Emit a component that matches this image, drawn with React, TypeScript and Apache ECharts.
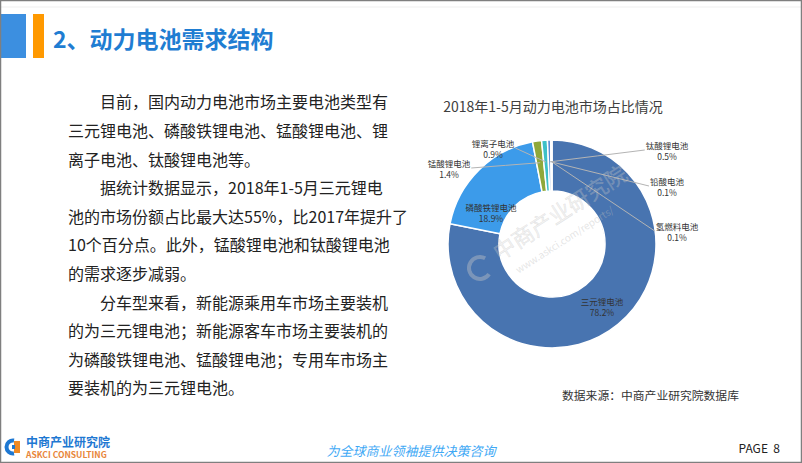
import React, { useEffect, useRef } from "react";
import * as echarts from "echarts";

const chartTitle = "2018年1-5月动力电池市场占比情况";
const categories = ["三元锂电池", "磷酸铁锂电池", "锰酸锂电池", "锂离子电池", "钛酸锂电池", "铅酸电池", "氢燃料电池"];
const shares = [78.2, 18.9, 1.4, 0.9, 0.5, 0.1, 0.1];
const sliceColors = ["#4874B0", "#3C9BEA", "#8FA83A", "#3EC0C8", "#5A8FD6", "#9DC3E6", "#2F5597"];
const insideFlags = [true, true, false, false, false, false, false];
const labelCenters: number[][] = [
  [602, 306],
  [491, 212],
  [449, 168],
  [493, 148],
  [667, 150],
  [667, 186],
  [677, 231],
];

const slideTitle = "2、动力电池需求结构";
const paragraphLines = [
  "　　目前，国内动力电池市场主要电池类型有",
  "三元锂电池、磷酸铁锂电池、锰酸锂电池、锂",
  "离子电池、钛酸锂电池等。",
  "　　据统计数据显示，2018年1-5月三元锂电",
  "池的市场份额占比最大达55%，比2017年提升了",
  "10个百分点。此外，锰酸锂电池和钛酸锂电池",
  "的需求逐步减弱。",
  "　　分车型来看，新能源乘用车市场主要装机",
  "的为三元锂电池；新能源客车市场主要装机的",
  "为磷酸铁锂电池、锰酸锂电池；专用车市场主",
  "要装机的为三元锂电池。",
];
const sourceText = "数据来源：中商产业研究院数据库";
const footerSlogan = "为全球商业领袖提供决策咨询";
const pageText = "PAGE  8";
const logoCn = "中商产业研究院";
const logoEn = "ASKCI CONSULTING";
const watermarkCn = "中商产业研究院";
const watermarkUrl = "www.askci.com/reports/";

const CJK = '"Noto Sans CJK SC", "Noto Sans", sans-serif';
const PIE_CENTER = [552, 244];
const PIE_RADIUS = [53, 104];

export default function App() {
  const ref = useRef<HTMLDivElement>(null);

  useEffect(() => {
    if (!ref.current) return;
    const chart = echarts.init(ref.current, undefined, { renderer: "svg" });

    const total = shares.reduce((a, b) => a + b, 0);
    const midAngles: number[] = [];
    let cum = 0;
    shares.forEach((v) => {
      midAngles.push(((90 - ((cum + v / 2) / total) * 360) * Math.PI) / 180);
      cum += v;
    });

    const sliceData = categories.map((name, i) => ({
      name,
      value: shares[i],
      itemStyle: { color: sliceColors[i] },
    }));

    const labelData = categories.map((name, i) => ({
      name,
      value: shares[i],
      label: insideFlags[i] ? { position: "inside" } : { position: "outside" },
      labelLine: { show: !insideFlags[i] },
    }));

    const common = {
      type: "pie",
      center: PIE_CENTER,
      radius: PIE_RADIUS,
      startAngle: 90,
      clockwise: true,
      avoidLabelOverlap: false,
    };

    const option: any = {
      animation: false,
      backgroundColor: "#ffffff",
      title: {
        text: chartTitle,
        left: 548,
        top: 94,
        textAlign: "center",
        textStyle: { fontFamily: CJK, fontSize: 14, fontWeight: "normal", color: "#404040" },
      },
      series: [
        {
          ...common,
          z: 2,
          itemStyle: { borderColor: "#ffffff", borderWidth: 1.5 },
          label: { show: false },
          labelLine: { show: false },
          data: sliceData,
        },
        {
          ...common,
          z: 4,
          silent: true,
          itemStyle: { color: "rgba(0,0,0,0)", borderWidth: 0 },
          label: {
            fontFamily: CJK,
            fontSize: 8.5,
            lineHeight: 11,
            color: "#333333",
            align: "center",
            formatter: (p: any) => `${p.name}\n${Number(p.value).toFixed(1)}%`,
          },
          labelLine: {
            length: 8,
            length2: 8,
            lineStyle: { color: "#B4B4B4", width: 1 },
          },
          labelLayout: (params: any) => {
            const i = params.dataIndex;
            const c = labelCenters[i];
            const res: any = { x: c[0], y: c[1], align: "center", verticalAlign: "middle", hideOverlap: false };
            if (!insideFlags[i]) {
              const r = PIE_RADIUS[1] * 0.79;
              const inner = [PIE_CENTER[0] + r * Math.cos(midAngles[i]), PIE_CENTER[1] - r * Math.sin(midAngles[i])];
              const halfW = (params.labelRect ? params.labelRect.width : 40) / 2;
              const rightSide = c[0] > PIE_CENTER[0];
              const end = [rightSide ? c[0] - halfW - 1 : c[0] + halfW + 1, c[1]];
              const mid = [(inner[0] + end[0]) / 2, (inner[1] + end[1]) / 2];
              res.labelLinePoints = [inner, mid, end];
            }
            return res;
          },
          data: labelData,
        },
      ],
      graphic: [
        {
          type: "rect",
          shape: { x: 0.5, y: 0.5, width: 801, height: 462 },
          style: { fill: "none", stroke: "#7F7F7F", lineWidth: 1.5 },
          z: 100,
        },
        { type: "line", shape: { x1: 1, y1: 7, x2: 801, y2: 7 }, style: { stroke: "#EFEFEF", lineWidth: 1 } },
        { type: "rect", shape: { x: 0, y: 14, width: 26, height: 44 }, style: { fill: "#3C8FE0" } },
        { type: "rect", shape: { x: 33, y: 14, width: 11, height: 44 }, style: { fill: "#FF9900" } },
        {
          type: "text",
          x: 53,
          y: 38,
          style: {
            text: slideTitle,
            fontFamily: CJK,
            fontSize: 23,
            fontWeight: "bold",
            fill: "#1F7DD2",
            verticalAlign: "middle",
          },
        },
        {
          type: "text",
          x: 68,
          y: 87,
          style: {
            text: paragraphLines.join("\n"),
            fontFamily: CJK,
            fontSize: 16,
            lineHeight: 28.6,
            fill: "#222222",
          },
        },
        {
          type: "text",
          x: 562,
          y: 394,
          style: {
            text: sourceText,
            fontFamily: CJK,
            fontSize: 11.8,
            fill: "#333333",
            verticalAlign: "middle",
          },
        },
        {
          type: "text",
          x: 500,
          y: 262,
          rotation: 0.57,
          style: {
            text: watermarkCn,
            fontFamily: CJK,
            fontSize: 22,
            fill: "rgba(210,210,210,0.28)",
            stroke: "rgba(170,170,170,0.3)",
            lineWidth: 0.5,
            verticalAlign: "bottom",
          },
          z: 50,
        },
        {
          type: "text",
          x: 516,
          y: 270,
          rotation: 0.57,
          style: {
            text: watermarkUrl,
            fontFamily: CJK,
            fontSize: 10,
            fill: "rgba(190,190,190,0.4)",
            verticalAlign: "middle",
          },
          z: 50,
        },
        {
          type: "arc",
          shape: { cx: 480, cy: 268, r: 11, startAngle: 0.6, endAngle: 5.2 },
          style: { stroke: "rgba(200,200,200,0.4)", lineWidth: 4, fill: "none" },
          z: 50,
        },
        {
          type: "arc",
          shape: { cx: 13, cy: 447, r: 6.5, startAngle: Math.PI * 0.45, endAngle: Math.PI * 1.55 },
          style: { stroke: "#1E78D2", lineWidth: 4, fill: "none" },
        },
        { type: "rect", shape: { x: 14, y: 441, width: 6, height: 12 }, style: { fill: "#F08A24" } },
        { type: "rect", shape: { x: 12, y: 445, width: 3, height: 4 }, style: { fill: "#1E78D2" } },
        {
          type: "text",
          x: 26,
          y: 441,
          style: { text: logoCn, fontFamily: CJK, fontSize: 12, fontWeight: "bold", fill: "#1E78D2", verticalAlign: "middle" },
        },
        {
          type: "text",
          x: 26,
          y: 454,
          style: { text: logoEn, fontFamily: CJK, fontSize: 8.5, fontWeight: "bold", fill: "#E8863A", verticalAlign: "middle" },
        },
        {
          type: "text",
          x: 411,
          y: 450,
          style: {
            text: footerSlogan,
            fontFamily: CJK,
            fontSize: 13,
            fontStyle: "italic",
            fill: "#3FA9F5",
            align: "center",
            verticalAlign: "middle",
          },
        },
        {
          type: "text",
          x: 780,
          y: 447,
          style: { text: pageText, fontFamily: CJK, fontSize: 12, fill: "#222222", align: "right", verticalAlign: "middle" },
        },
      ],
    };

    chart.setOption(option);
    return () => chart.dispose();
  }, []);

  return (
    <div
      ref={ref}
      style={{ position: "absolute", left: 0, top: 0, width: 802, height: 463, background: "#fff" }}
    />
  );
}
